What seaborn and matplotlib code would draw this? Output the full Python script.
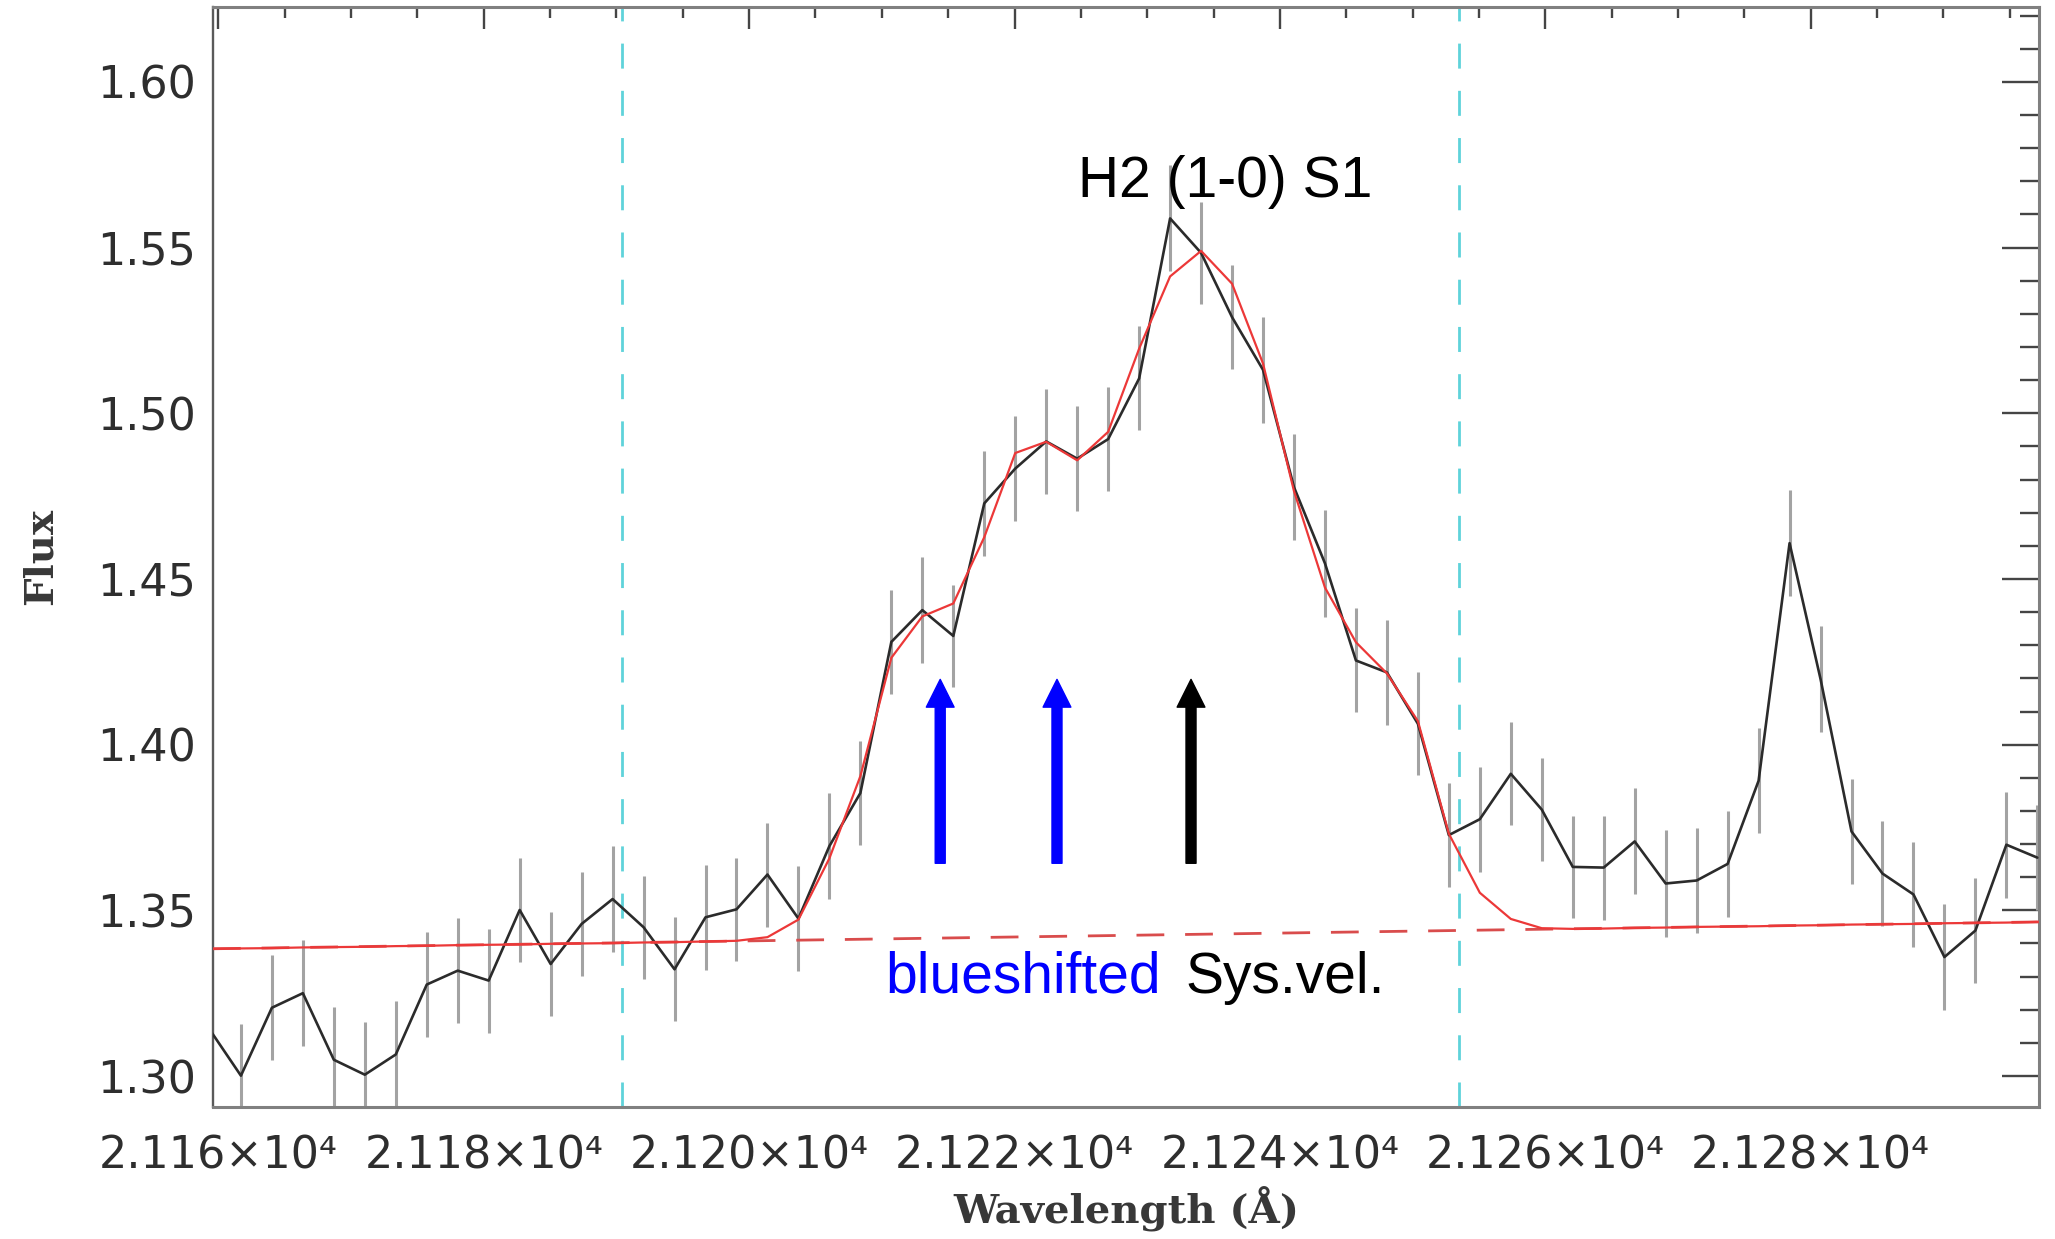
import numpy as np
import pandas as pd
import matplotlib
matplotlib.use("Agg")
import matplotlib.pyplot as plt
from matplotlib.ticker import FixedLocator, MultipleLocator
import seaborn as sns

# ---- spectrum sampling (first pixel, dispersion in Å/pixel) ----
CRVAL = 21159.37
CDELT = 2.334

# observed flux per pixel
flux = [1.3139, 1.3001, 1.3206, 1.3250, 1.3049, 1.3004, 1.3065, 1.3276, 1.3318, 1.3288,
        1.3501, 1.3338, 1.3459, 1.3534, 1.3449, 1.3322, 1.3479, 1.3503, 1.3608, 1.3475,
        1.3694, 1.3854, 1.4310, 1.4406, 1.4328, 1.4728, 1.4833, 1.4915, 1.4863, 1.4922,
        1.5105, 1.5588, 1.5484, 1.5290, 1.5131, 1.4777, 1.4547, 1.4254, 1.4218, 1.4063,
        1.3727, 1.3775, 1.3912, 1.3804, 1.3631, 1.3629, 1.3708, 1.3581, 1.3590, 1.3640,
        1.3891, 1.4608, 1.4198, 1.3738, 1.3611, 1.3548, 1.3359, 1.3439, 1.3698, 1.3659]

# 1-sigma uncertainty per pixel
flux_err = [0.0158, 0.0156, 0.0158, 0.0159, 0.0160, 0.0158, 0.0162, 0.0159, 0.0158, 0.0157,
            0.0158, 0.0157, 0.0156, 0.0160, 0.0155, 0.0157, 0.0159, 0.0156, 0.0157, 0.0159,
            0.0159, 0.0158, 0.0157, 0.0159, 0.0153, 0.0158, 0.0158, 0.0158, 0.0159, 0.0158,
            0.0157, 0.0160, 0.0155, 0.0157, 0.0159, 0.0160, 0.0161, 0.0157, 0.0159, 0.0155,
            0.0156, 0.0159, 0.0155, 0.0155, 0.0155, 0.0157, 0.0160, 0.0160, 0.0159, 0.0160,
            0.0159, 0.0159, 0.0159, 0.0159, 0.0159, 0.0159, 0.0161, 0.0159, 0.0160, 0.0158]

# multi-component Gaussian model + continuum, evaluated per pixel
fit = [1.3384, 1.3385, 1.3386, 1.3388, 1.3389, 1.3390, 1.3392, 1.3393, 1.3395, 1.3396,
       1.3397, 1.3399, 1.3400, 1.3401, 1.3403, 1.3404, 1.3406, 1.3408, 1.3419, 1.3472,
       1.3657, 1.3905, 1.4262, 1.4387, 1.4426, 1.4626, 1.4880, 1.4914, 1.4858, 1.4944,
       1.5195, 1.5413, 1.5490, 1.5391, 1.5150, 1.4765, 1.4474, 1.4309, 1.4215, 1.4071,
       1.3731, 1.3553, 1.3474, 1.3446, 1.3444, 1.3445, 1.3447, 1.3448, 1.3450, 1.3451,
       1.3452, 1.3454, 1.3455, 1.3457, 1.3458, 1.3459, 1.3461, 1.3462, 1.3463, 1.3465]

# linear continuum
cont_wave = [21159.6, 21297.2]
cont_flux = [1.3384, 1.3465]

# fitting window
window = [21190.4, 21253.5]

# velocity component markers
arrow_blue = [21214.4, 21223.2]
arrow_sys = [21233.3]
arrow_tail, arrow_tip = 1.3642, 1.4197

xticks = [21160, 21180, 21200, 21220, 21240, 21260, 21280]
xticklabels = ["2.116×10⁴", "2.118×10⁴", "2.120×10⁴", "2.122×10⁴",
               "2.124×10⁴", "2.126×10⁴", "2.128×10⁴"]
yticks = [1.30, 1.35, 1.40, 1.45, 1.50, 1.55, 1.60]
yticklabels = ["1.30", "1.35", "1.40", "1.45", "1.50", "1.55", "1.60"]

wave = CRVAL + CDELT * np.arange(len(flux))
spec = pd.DataFrame({"wave": wave, "flux": flux, "err": flux_err, "fit": fit})

sns.set_style("white")
plt.rcParams["font.family"] = ["DejaVu Sans"]

fig = plt.figure(figsize=(20.55, 12.39), dpi=100)
ax = fig.add_axes([0.10365, 0.10694, 0.88856, 0.88741])

# fitting window limits
for xv in window:
    ax.axvline(xv, color="#5fd3da", lw=2.0, ls=(0, (9, 8)), zorder=1)

# error bars
ax.vlines(spec["wave"], spec["flux"] - spec["err"], spec["flux"] + spec["err"],
          color="#a3a3a3", lw=2.2, zorder=2)

# observed spectrum
sns.lineplot(data=spec, x="wave", y="flux", ax=ax, color="#2b2b2b", lw=1.9,
             estimator=None, sort=False, zorder=3)

# continuum (dashed) and total fit (solid)
ax.plot(cont_wave, cont_flux, color="#d94c4c", lw=2.0, ls=(0, (10, 7.5)), zorder=4)
sns.lineplot(data=spec, x="wave", y="fit", ax=ax, color="#ec3838", lw=1.6,
             estimator=None, sort=False, zorder=5)

# component arrows
arrow_style = "simple,head_length=1.0,head_width=1.0,tail_width=0.36"
for xa in arrow_blue:
    ax.annotate("", xy=(xa, arrow_tip), xytext=(xa, arrow_tail),
                arrowprops=dict(arrowstyle=arrow_style, color="#0000ff",
                                mutation_scale=20, shrinkA=0, shrinkB=0), zorder=6)
for xa in arrow_sys:
    ax.annotate("", xy=(xa, arrow_tip), xytext=(xa, arrow_tail),
                arrowprops=dict(arrowstyle=arrow_style, color="#000000",
                                mutation_scale=20, shrinkA=0, shrinkB=0), zorder=6)

ann_font = ["Liberation Sans", "DejaVu Sans"]
ax.text(21224.77, 1.5652, "H2 (1-0) S1", family=ann_font, fontsize=41,
        color="black", ha="left", va="baseline", zorder=7)
ax.text(21210.29, 1.3252, "blueshifted", family=ann_font, fontsize=41,
        color="#0000ff", ha="left", va="baseline", zorder=7)
ax.text(21232.88, 1.3252, "Sys.vel.", family=ann_font, fontsize=41,
        color="black", ha="left", va="baseline", zorder=7)

ax.set_xlim(21159.6, 21297.2)
ax.set_ylim(1.2908, 1.6226)

ax.xaxis.set_major_locator(FixedLocator(xticks))
ax.set_xticklabels(xticklabels)
ax.xaxis.set_minor_locator(MultipleLocator(5))
ax.yaxis.set_major_locator(FixedLocator(yticks))
ax.set_yticklabels(yticklabels)
ax.yaxis.set_minor_locator(MultipleLocator(0.01))

ax.tick_params(which="both", direction="in", top=True, right=True,
               color="#454545", width=1.7, labelcolor="#2e2e2e", labelsize=32)
ax.tick_params(axis="x", which="major", length=15.6, pad=20)
ax.tick_params(axis="x", which="minor", length=7.9)
ax.tick_params(axis="y", which="major", length=26.3, pad=12)
ax.tick_params(axis="y", which="minor", length=13.5)

for name, sp in ax.spines.items():
    sp.set_visible(True)
    sp.set_color("#5a5a5a" if name == "left" else "#808080")
    sp.set_linewidth(1.7 if name == "left" else 2.2)

lab_font = ["DejaVu Serif"]
ax.set_xlabel("Wavelength (Å)", family=lab_font, fontsize=29, fontweight="bold",
              color="#383838")
ax.set_ylabel("Flux", family=lab_font, fontsize=29, fontweight="bold", color="#383838")
ax.xaxis.set_label_coords(0.5, -0.073)
ax.yaxis.set_label_coords(-0.084, 0.5)

fig.savefig("out.png", dpi=100)
